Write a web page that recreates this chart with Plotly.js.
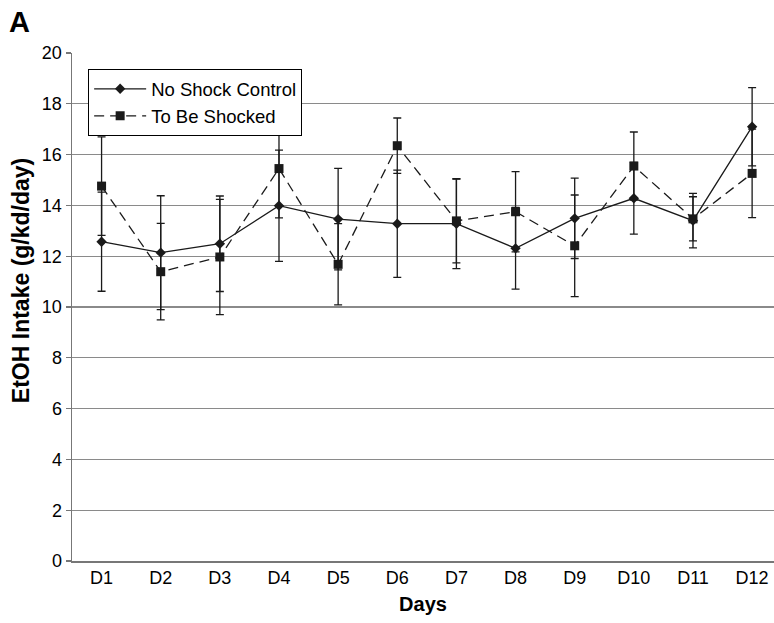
<!DOCTYPE html>
<html>
<head>
<meta charset="utf-8">
<script src="https://cdn.plot.ly/plotly-3.0.1.min.js"></script>
<style>html,body{margin:0;padding:0;background:#fff;}#chart{width:774px;height:623px;}</style>
</head>
<body>
<div id="chart"></div>
<script>
const days = ["D1","D2","D3","D4","D5","D6","D7","D8","D9","D10","D11","D12"];
const controlMean = [12.57, 12.14, 12.49, 13.99, 13.46, 13.28, 13.28, 12.31, 13.49, 14.28, 13.40, 17.10];
const controlErr  = [1.95, 2.24, 1.88, 2.19, 2.00, 2.11, 1.77, 1.61, 1.58, 1.41, 1.07, 1.54];
const shockedMean = [14.76, 11.39, 11.97, 15.45, 11.68, 16.35, 13.39, 13.75, 12.41, 15.55, 13.47, 15.26];
const shockedErr  = [1.94, 1.90, 2.27, 1.94, 1.60, 1.09, 1.65, 1.58, 2.00, 1.34, 0.87, 1.74];
const yTicks = [0, 2, 4, 6, 8, 10, 12, 14, 16, 18, 20];

const FONT = "Liberation Sans, Arial, sans-serif";

const traces = [
  {
    x: days, y: controlMean, name: "No Shock Control", type: "scatter", mode: "lines+markers",
    line: {color: "#1a1a1a", width: 1.3},
    marker: {symbol: "diamond", size: 8, color: "#1a1a1a"},
    error_y: {type: "data", array: controlErr, visible: true, color: "#1a1a1a", thickness: 1.3, width: 4}
  },
  {
    x: days, y: shockedMean, name: "To Be Shocked", type: "scatter", mode: "lines+markers",
    line: {color: "#1a1a1a", width: 1.3, dash: "10px,6px"},
    marker: {symbol: "square", size: 9, color: "#1a1a1a"},
    error_y: {type: "data", array: shockedErr, visible: true, color: "#1a1a1a", thickness: 1.3, width: 4}
  }
];

const layout = {
  width: 774, height: 623,
  margin: {l: 72, r: 0, t: 53, b: 62},
  paper_bgcolor: "#fff", plot_bgcolor: "#fff",
  font: {family: FONT, size: 18, color: "#000"},
  showlegend: true,
  legend: {
    x: 0.023, y: 0.968, xanchor: "left", yanchor: "top",
    bordercolor: "#000", borderwidth: 1, bgcolor: "#fff",
    font: {family: FONT, size: 18.5, color: "#000"},
    itemwidth: 52,
    tracegroupgap: 0
  },
  xaxis: {
    type: "category", range: [-0.5, 11.37],
    showgrid: false, showline: true, linecolor: "#777", linewidth: 1.5,
    ticks: "", tickfont: {family: FONT, size: 18, color: "#000"},
    title: {text: "<b>Days</b>", font: {family: FONT, size: 20, color: "#000"}, standoff: 10},
    zeroline: false
  },
  yaxis: {
    range: [0, 20], tickvals: yTicks, ticktext: yTicks.map(String),
    showgrid: true, gridcolor: "#8a8a8a", gridwidth: 1.3,
    showline: true, linecolor: "#777", linewidth: 1.5,
    ticks: "outside", ticklen: 5, tickcolor: "#777", tickwidth: 1.3,
    tickfont: {family: FONT, size: 18, color: "#000"},
    zeroline: false
  },
  annotations: [
    {text: "<b>A</b>", xref: "paper", yref: "paper", x: -0.093, y: 1.061, xanchor: "left", yanchor: "middle",
     showarrow: false, font: {family: FONT, size: 29, color: "#000"}},
    {text: "<b>EtOH Intake (g/kd/day)</b>", xref: "paper", yref: "paper", x: -0.0726, y: 0.551,
     xanchor: "center", yanchor: "middle", textangle: -90, showarrow: false,
     font: {family: FONT, size: 23, color: "#000"}}
  ]
};

Plotly.newPlot("chart", traces, layout, {displayModeBar: false, staticPlot: true});
</script>
</body>
</html>
